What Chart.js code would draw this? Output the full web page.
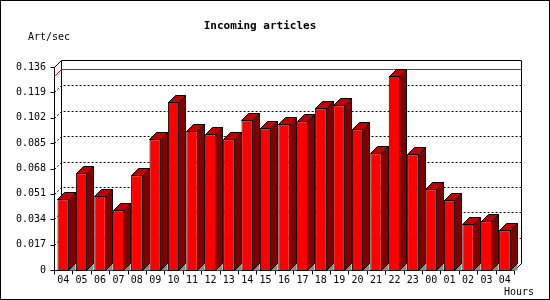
<!DOCTYPE html>
<html>
<head>
<meta charset="utf-8">
<script src="https://cdn.jsdelivr.net/npm/chart.js@4/dist/chart.umd.min.js"></script>
<style>
  body { margin: 0; background: #fff; }
  canvas { display: block; }
</style>
</head>
<body>
<canvas id="mycanvas" width="550" height="300"></canvas>
<script>
// data
var hours = ['04','05','06','07','08','09','10','11','12','13','14','15','16',
             '17','18','19','20','21','22','23','00','01','02','03','04'];
var artPerSec = [0.0474, 0.0648, 0.0496, 0.0400, 0.0634, 0.0876, 0.1126, 0.0931,
                 0.0909, 0.0876, 0.1003, 0.0949, 0.0976, 0.0996, 0.1083, 0.1103,
                 0.0943, 0.0782, 0.1300, 0.0775, 0.0541, 0.0467, 0.0308, 0.0326, 0.0266];
var yTicks = [0, 0.017, 0.034, 0.051, 0.068, 0.085, 0.102, 0.119, 0.136];

var DEPTH = 7;
var FONT = 'DejaVu Sans Mono';

function px(v) { return Math.round(v) + 0.5; }

// draws the 3d box, back grid, max line, and the side/top faces of the bars
var box3d = {
	id: 'box3d',
	beforeDraw: function(chart) {
		var c = chart.ctx;
		c.save();
		c.fillStyle = '#fff';
		c.fillRect(0, 0, chart.width, chart.height);
		c.strokeStyle = '#000';
		c.lineWidth = 1;
		c.strokeRect(0.5, 0.5, chart.width - 1, chart.height - 1);
		c.fillStyle = '#000';
		c.font = '10px ' + FONT;
		c.textBaseline = 'middle';
		c.textAlign = 'left';
		c.fillText('Art/sec', 28, 37);
		c.fillText('Hours', 504, 292);
		c.restore();
	},
	beforeDatasetsDraw: function(chart) {
		var c = chart.ctx, a = chart.chartArea;
		var x = chart.scales.x, y = chart.scales.y;
		var L = px(a.left), R = px(a.right), T = px(a.top), B = px(a.bottom);
		c.save();
		c.lineWidth = 1;

		// dotted grid on the back wall
		c.strokeStyle = '#000';
		c.setLineDash([2, 2]);
		y.ticks.forEach(function(t) {
			if (t.value === 0 || t.value === y.max) return;
			var py = px(y.getPixelForValue(t.value));
			c.beginPath();
			c.moveTo(L, py);
			c.lineTo(L + DEPTH, py - DEPTH);
			c.lineTo(R + DEPTH, py - DEPTH);
			c.stroke();
		});
		c.setLineDash([]);

		// max line
		var maxV = Math.max.apply(null, artPerSec);
		var my = px(y.getPixelForValue(maxV));
		c.strokeStyle = '#ff0000';
		c.beginPath();
		c.moveTo(L, my);
		c.lineTo(L + DEPTH, my - DEPTH);
		c.lineTo(R + DEPTH, my - DEPTH);
		c.stroke();

		// box outline
		c.strokeStyle = '#000';
		c.beginPath();
		c.moveTo(L, T);
		c.lineTo(L + DEPTH, T - DEPTH);
		c.lineTo(R + DEPTH, T - DEPTH);
		c.lineTo(R + DEPTH, B - DEPTH);
		c.lineTo(R, B);
		c.moveTo(L + DEPTH, T - DEPTH);
		c.lineTo(L + DEPTH, B - DEPTH);
		c.moveTo(L, T);
		c.lineTo(L, B);
		c.lineTo(R, B);
		c.stroke();

		// tick marks
		c.beginPath();
		y.ticks.forEach(function(t) {
			var py = px(y.getPixelForValue(t.value));
			c.moveTo(L - 4, py);
			c.lineTo(L, py);
		});
		var step = x.getPixelForValue(1) - x.getPixelForValue(0);
		for (var i = 0; i <= hours.length; i++) {
			var tx = px(x.getPixelForValue(0) - step / 2 + i * step);
			c.moveTo(tx, B);
			c.lineTo(tx, B + 4);
		}
		c.stroke();
		c.restore();
	},
	afterDatasetsDraw: function(chart) {
		var c = chart.ctx;
		var meta = chart.getDatasetMeta(0);
		c.save();
		c.lineWidth = 1;
		c.strokeStyle = '#000';
		meta.data.forEach(function(bar) {
			var p = bar.getProps(['x', 'y', 'base', 'width'], true);
			var xl = px(p.x - p.width / 2), xr = px(p.x + p.width / 2) - 1;
			var yt = px(p.y), yb = px(p.base);
			// floor shadow
			c.fillStyle = '#8c8c8c';
			c.beginPath();
			c.moveTo(xr, yb);
			c.lineTo(xr + DEPTH, yb - DEPTH);
			c.lineTo(xr + DEPTH, yb);
			c.closePath();
			c.fill();
			// side
			c.fillStyle = '#800000';
			c.beginPath();
			c.moveTo(xr, yt);
			c.lineTo(xr + DEPTH, yt - DEPTH);
			c.lineTo(xr + DEPTH, yb - DEPTH);
			c.lineTo(xr, yb);
			c.closePath();
			c.fill();
			c.stroke();
			// top
			c.fillStyle = '#c00000';
			c.beginPath();
			c.moveTo(xl, yt);
			c.lineTo(xl + DEPTH, yt - DEPTH);
			c.lineTo(xr + DEPTH, yt - DEPTH);
			c.lineTo(xr, yt);
			c.closePath();
			c.fill();
			c.stroke();
		});
		c.restore();
	}
};

var ctx = document.getElementById('mycanvas');

var barGraph = new Chart(ctx, {
	type: 'bar',
	data: {
		labels: hours,
		datasets: [{
			label: 'Art/sec',
			data: artPerSec,
			backgroundColor: '#ff0000',
			borderColor: '#000',
			borderWidth: 1,
			categoryPercentage: 1,
			barPercentage: 0.62
		}]
	},
	options: {
		responsive: false,
		animation: false,
		devicePixelRatio: 1,
		layout: { padding: { left: 6, right: 36, top: 0, bottom: 0 } },
		plugins: {
			legend: { display: false },
			tooltip: { enabled: false },
			title: {
				display: true,
				text: 'Incoming articles',
				color: '#000',
				font: { family: FONT, size: 11, weight: 'bold' },
				padding: { top: 20, bottom: 33.8 }
			}
		},
		scales: {
			x: {
				grid: { display: false, drawTicks: false },
				border: { display: false },
				ticks: { color: '#000', font: { family: FONT, size: 10 }, padding: 4, maxRotation: 0, autoSkip: false },
				afterFit: function(s) { s.height = 30; }
			},
			y: {
				min: 0,
				max: 0.136,
				grid: { display: false, drawTicks: false },
				border: { display: false },
				afterBuildTicks: function(s) {
					s.ticks = yTicks.map(function(v) { return { value: v }; });
				},
				ticks: {
					color: '#000',
					font: { family: FONT, size: 10 },
					padding: 8,
					callback: function(v) { return v === 0 ? '0' : v.toFixed(3); }
				},
				afterFit: function(s) { s.width = 48; }
			}
		}
	},
	plugins: [box3d]
});
</script>
</body>
</html>
